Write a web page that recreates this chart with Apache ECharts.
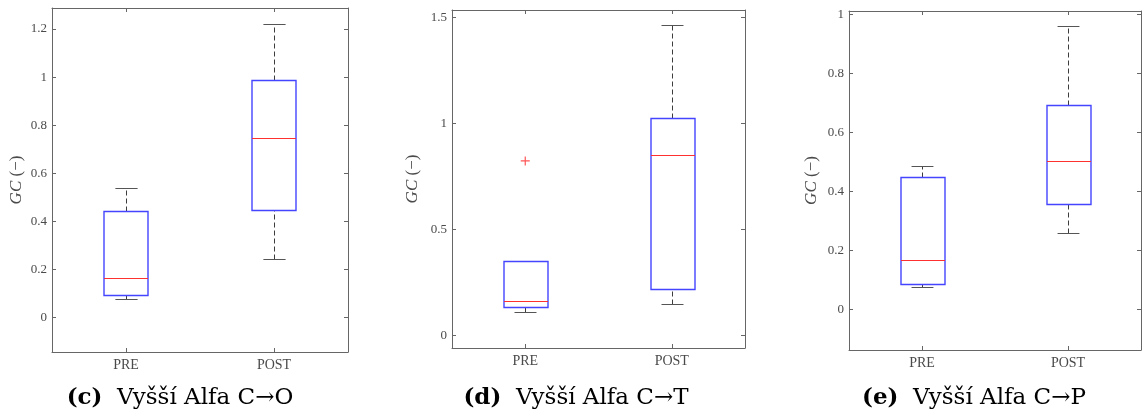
<!DOCTYPE html>
<html>
<head>
<meta charset="utf-8">
<script src="https://cdn.jsdelivr.net/npm/echarts@6/dist/echarts.min.js"></script>
<style>html,body{margin:0;padding:0;background:#fff}#c{width:1142px;height:417px}</style>
</head>
<body>
<div id="c"></div>
<script>
// ---- data: [lower whisker, Q1, median, Q3, upper whisker]
const categories = ['PRE', 'POST'];
const cPre  = [0.076, 0.096, 0.164, 0.443, 0.540];
const cPost = [0.242, 0.447, 0.746, 0.988, 1.222];
const dPre  = [0.111, 0.134, 0.161, 0.348, 0.348];
const dPost = [0.146, 0.217, 0.853, 1.026, 1.464];
const dOutliers = [[0, 0.823]];
const ePre  = [0.076, 0.086, 0.169, 0.449, 0.485];
const ePost = [0.259, 0.358, 0.504, 0.694, 0.960];
const cTicks = [0, 0.2, 0.4, 0.6, 0.8, 1, 1.2];
const dTicks = [0, 0.5, 1, 1.5];
const eTicks = [0, 0.2, 0.4, 0.6, 0.8, 1];
const captions = [['(c)', 'Vyšší Alfa C→O'], ['(d)', 'Vyšší Alfa C→T'], ['(e)', 'Vyšší Alfa C→P']];
const yName = 'GC';
const yUnit = ' (−)';

// ---- layout / style
const SERIF = '"Liberation Serif", "DejaVu Serif", serif';
const CAPFONT = '"DejaVu Serif", "Liberation Serif", serif';
const AX = '#666666';
const LBL = '#4a4a4a';
const panels = [
  {grid: {left: 52, top: 8, width: 296, height: 344}, min: -0.143, max: 1.2875, ticks: cTicks, boxes: [cPre, cPost], out: [], nameX: 17},
  {grid: {left: 452, top: 10, width: 293, height: 338}, min: -0.061, max: 1.536, ticks: dTicks, boxes: [dPre, dPost], out: dOutliers, nameX: 413},
  {grid: {left: 849, top: 11, width: 292, height: 339}, min: -0.137, max: 1.0105, ticks: eTicks, boxes: [ePre, ePost], out: [], nameX: 812}
];
const capX = [180, 576, 974];

function renderBox(params, api) {
  const idx = api.value(0);
  const lo = api.value(1), q1 = api.value(2), med = api.value(3), q3 = api.value(4), hi = api.value(5);
  const band = api.size([1, 0])[0];
  const bw = band * 0.3, cw = bw / 2;
  const x = Math.round(api.coord([idx, med])[0]) + 0.5;
  const y = v => Math.round(api.coord([idx, v])[1]) + 0.5;
  const ch = [];
  const wStyle = {stroke: '#3c3c3c', lineWidth: 1, lineDash: [5, 3]};
  const cStyle = {stroke: '#555555', lineWidth: 1};
  if (hi > q3) ch.push({type: 'line', shape: {x1: x, y1: y(q3), x2: x, y2: y(hi)}, style: wStyle});
  if (lo < q1) ch.push({type: 'line', shape: {x1: x, y1: y(lo), x2: x, y2: y(q1)}, style: wStyle});
  ch.push({type: 'line', shape: {x1: x - cw / 2, y1: y(hi), x2: x + cw / 2, y2: y(hi)}, style: cStyle});
  ch.push({type: 'line', shape: {x1: x - cw / 2, y1: y(lo), x2: x + cw / 2, y2: y(lo)}, style: cStyle});
  ch.push({type: 'rect', shape: {x: Math.round(x - bw / 2), y: y(q3), width: Math.round(bw), height: y(q1) - y(q3)},
    style: {fill: null, stroke: '#4545ff', lineWidth: 1.4}});
  ch.push({type: 'line', shape: {x1: Math.round(x - bw / 2), y1: y(med), x2: Math.round(x - bw / 2) + Math.round(bw), y2: y(med)},
    style: {stroke: '#ff3030', lineWidth: 1.2}});
  return {type: 'group', children: ch};
}

const grid = [], xAxis = [], yAxis = [], series = [], graphic = [];
panels.forEach((p, i) => {
  grid.push(p.grid);
  const baseX = {type: 'category', data: categories, gridIndex: i, boundaryGap: true,
    axisLine: {show: true, onZero: false, lineStyle: {color: AX, width: 1}},
    axisTick: {show: true, inside: true, length: 4, alignWithLabel: true, lineStyle: {color: AX}},
    splitLine: {show: false}};
  xAxis.push(Object.assign({}, baseX, {position: 'bottom',
    axisLabel: {show: true, margin: 6, fontFamily: SERIF, fontSize: 14, color: LBL}}));
  xAxis.push(Object.assign({}, baseX, {position: 'top', axisLabel: {show: false}}));
  const baseY = {type: 'value', gridIndex: i, min: p.min, max: p.max,
    axisLine: {show: true, onZero: false, lineStyle: {color: AX, width: 1}},
    axisTick: {show: true, inside: true, length: 4, customValues: p.ticks, lineStyle: {color: AX}},
    splitLine: {show: false}};
  yAxis.push(Object.assign({}, baseY, {position: 'left',
    axisLabel: {show: true, margin: 5, customValues: p.ticks, fontFamily: SERIF, fontSize: 13, color: LBL,
      formatter: v => String(+v.toFixed(2))}}));
  yAxis.push(Object.assign({}, baseY, {position: 'right', axisLabel: {show: false}}));
  series.push({type: 'custom', xAxisIndex: 2 * i, yAxisIndex: 2 * i, renderItem: renderBox, silent: true,
    data: p.boxes.map((b, k) => [k].concat(b)), clip: false});
  if (p.out.length) series.push({type: 'scatter', xAxisIndex: 2 * i, yAxisIndex: 2 * i, silent: true,
    symbol: 'path://M0,5L10,5M5,0L5,10', symbolSize: 9,
    itemStyle: {color: 'none', borderColor: '#ff2a2a', borderWidth: 1.2},
    data: p.out});
  const cy = p.grid.top + p.grid.height / 2;
  graphic.push({type: 'text', x: p.nameX, y: cy, rotation: Math.PI / 2,
    style: {text: '{i|' + yName + '}' + yUnit, fontFamily: SERIF, fontSize: 17, fill: LBL,
      align: 'center', verticalAlign: 'middle',
      rich: {i: {fontStyle: 'italic', fontFamily: SERIF, fontSize: 17, fill: LBL}}}});
  graphic.push({type: 'text', x: capX[i], y: 398,
    style: {text: '{b|' + captions[i][0] + '}  ' + captions[i][1], fontFamily: CAPFONT, fontSize: 23, fill: '#000',
      align: 'center', verticalAlign: 'middle',
      rich: {b: {fontWeight: 'bold', fontFamily: CAPFONT, fontSize: 23, fill: '#000'}}}});
});

const chart = echarts.init(document.getElementById('c'), null, {renderer: 'canvas'});
chart.setOption({animation: false, grid, xAxis, yAxis, series, graphic});
</script>
</body>
</html>
